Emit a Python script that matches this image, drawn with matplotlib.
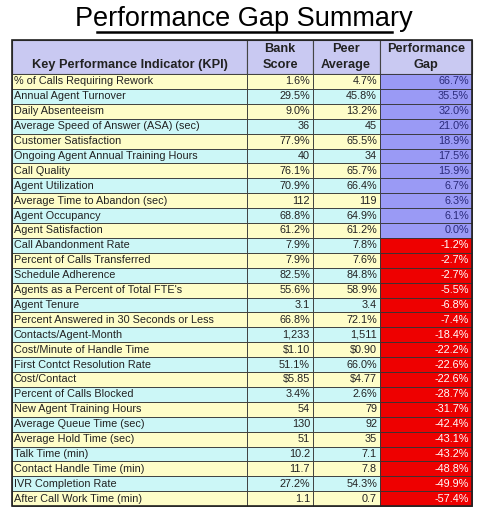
import matplotlib.pyplot as plt
from matplotlib.patches import Rectangle

kpis = ['% of Calls Requiring Rework', 'Annual Agent Turnover', 'Daily Absenteeism',
        'Average Speed of Answer (ASA) (sec)', 'Customer Satisfaction',
        'Ongoing Agent Annual Training Hours', 'Call Quality', 'Agent Utilization',
        'Average Time to Abandon (sec)', 'Agent Occupancy', 'Agent Satisfaction',
        'Call Abandonment Rate', 'Percent of Calls Transferred', 'Schedule Adherence',
        "Agents as a Percent of Total FTE's", 'Agent Tenure',
        'Percent Answered in 30 Seconds or Less', 'Contacts/Agent-Month',
        'Cost/Minute of Handle Time', 'First Contct Resolution Rate', 'Cost/Contact',
        'Percent of Calls Blocked', 'New Agent Training Hours', 'Average Queue Time (sec)',
        'Average Hold Time (sec)', 'Talk Time (min)', 'Contact Handle Time (min)',
        'IVR Completion Rate', 'After Call Work Time (min)']
bank = ['1.6%', '29.5%', '9.0%', '36', '77.9%', '40', '76.1%', '70.9%', '112', '68.8%',
        '61.2%', '7.9%', '7.9%', '82.5%', '55.6%', '3.1', '66.8%', '1,233', '$1.10',
        '51.1%', '$5.85', '3.4%', '54', '130', '51', '10.2', '11.7', '27.2%', '1.1']
peer = ['4.7%', '45.8%', '13.2%', '45', '65.5%', '34', '65.7%', '66.4%', '119', '64.9%',
        '61.2%', '7.8%', '7.6%', '84.8%', '58.9%', '3.4', '72.1%', '1,511', '$0.90',
        '66.0%', '$4.77', '2.6%', '79', '92', '35', '7.1', '7.8', '54.3%', '0.7']
gap = [66.7, 35.5, 32.0, 21.0, 18.9, 17.5, 15.9, 6.7, 6.3, 6.1, 0.0, -1.2, -2.7, -2.7,
       -5.5, -6.8, -7.4, -18.4, -22.2, -22.6, -22.6, -28.7, -31.7, -42.4, -43.1, -43.2,
       -48.8, -49.9, -57.4]

fig = plt.figure(figsize=(4.8, 5.18), dpi=100)
ax = fig.add_axes([0, 0, 1, 1])
ax.set_xlim(0, 480)
ax.set_ylim(518, 0)
ax.axis('off')

font = 'Liberation Sans'
cols = [12, 247, 313, 380, 472]
top, head_h, row_h = 40, 34, 14.9

ax.text(244, 19, 'Performance Gap Summary', ha='center', va='center', fontsize=19.5,
        family=font)
ax.plot([97, 392], [32, 32], color='black', lw=1.8)

# header
for i in range(4):
    ax.add_patch(Rectangle((cols[i], top), cols[i + 1] - cols[i], head_h,
                           fc='#c9c9f2', ec='#444444', lw=0.8))
hs = dict(fontsize=9.2, fontweight='bold', family=font, color='#222222')
ax.text(130, top + 25, 'Key Performance Indicator (KPI)', ha='center', va='center', **hs)
ax.text(280, top + 17, 'Bank\nScore', ha='center', va='center', linespacing=1.4, **hs)
ax.text(346, top + 17, 'Peer\nAverage', ha='center', va='center', linespacing=1.4, **hs)
ax.text(426, top + 17, 'Performance\nGap', ha='center', va='center', linespacing=1.4, **hs)

for r, name in enumerate(kpis):
    y = top + head_h + r * row_h
    bg = '#fefdc8' if r % 2 == 0 else '#ccf7f7'
    for i in range(3):
        ax.add_patch(Rectangle((cols[i], y), cols[i + 1] - cols[i], row_h,
                               fc=bg, ec='#333333', lw=0.6))
    g = gap[r]
    gfc = '#9a9af5' if g >= 0 else '#ee0000'
    ax.add_patch(Rectangle((cols[3], y), cols[4] - cols[3], row_h, fc=gfc,
                           ec='#333333', lw=0.6))
    ts = dict(fontsize=7.8, family=font, va='center', color='#222222')
    ax.text(cols[0] + 2, y + row_h / 2, name, ha='left', **ts)
    ax.text(cols[2] - 3, y + row_h / 2, bank[r], ha='right', **ts)
    ax.text(cols[3] - 3, y + row_h / 2, peer[r], ha='right', **ts)
    ts['color'] = '#2a2a7a' if g >= 0 else 'white'
    ax.text(cols[4] - 3, y + row_h / 2, f'{g:.1f}%', ha='right', **ts)

bottom = top + head_h + len(kpis) * row_h
ax.add_patch(Rectangle((cols[0], top), cols[4] - cols[0], bottom - top,
                       fc='none', ec='#222222', lw=1.2))

plt.savefig('out.png')
